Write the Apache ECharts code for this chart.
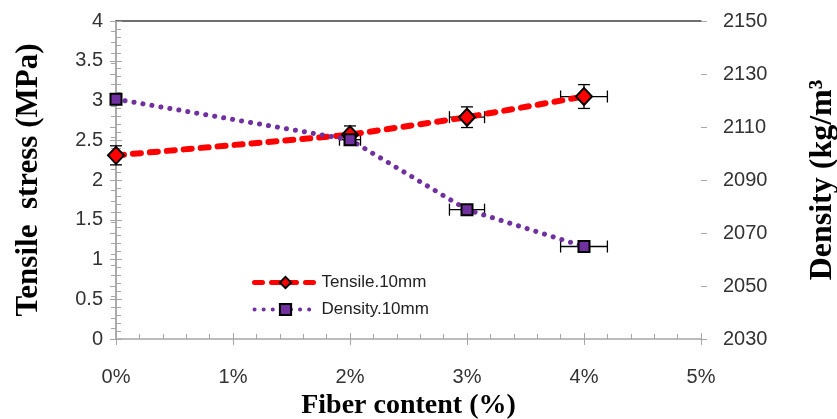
<!DOCTYPE html>
<html>
<head>
<meta charset="utf-8">
<script src="https://cdn.jsdelivr.net/npm/echarts@6/dist/echarts.min.js"></script>
<style>
  html, body { margin: 0; padding: 0; background: #fff; }
  #chart { width: 837px; height: 419px; }
</style>
</head>
<body>
<div id="chart"></div>
<script>
// Fiber content (%) on x
const fiber = [0, 2, 3, 4];
// Tensile stress (MPa), left axis
const tensile = [2.31, 2.57, 2.79, 3.05];
const tensileErrY = [0.12, 0.11, 0.13, 0.15];
const tensileErrX = [0, 0, 0.15, 0.2];
// Density (kg/m3), right axis
const density = [2120.5, 2105.2, 2078.8, 2064.9];
const densityErrY = [0, 0, 0, 0];
const densityErrX = [0, 0.09, 0.15, 0.2];

const labelFont = 'Liberation Sans';
const titleFont = 'Liberation Serif';
const gray = '#a6a6a6';

// error bars drawn with a custom series
function errorBars(xs, ys, ex, ey) {
    return xs.map((x, i) => [x, ys[i], ex[i], ey[i]]);
}

function renderErr(params, api) {
    const x = api.value(0), y = api.value(1);
    const ex = api.value(2), ey = api.value(3);
    const cap = 6;
    const children = [];
    const style = { stroke: '#000', lineWidth: 1.3 };
    if (ey > 0) {
        const top = api.coord([x, y + ey]);
        const bot = api.coord([x, y - ey]);
        children.push({ type: 'line', shape: { x1: top[0], y1: top[1], x2: bot[0], y2: bot[1] }, style: style });
        children.push({ type: 'line', shape: { x1: top[0] - cap, y1: top[1], x2: top[0] + cap, y2: top[1] }, style: style });
        children.push({ type: 'line', shape: { x1: bot[0] - cap, y1: bot[1], x2: bot[0] + cap, y2: bot[1] }, style: style });
    }
    if (ex > 0) {
        const l = api.coord([x - ex, y]);
        const r = api.coord([x + ex, y]);
        children.push({ type: 'line', shape: { x1: l[0], y1: l[1], x2: r[0], y2: r[1] }, style: style });
        children.push({ type: 'line', shape: { x1: l[0], y1: l[1] - cap, x2: l[0], y2: l[1] + cap }, style: style });
        children.push({ type: 'line', shape: { x1: r[0], y1: r[1] - cap, x2: r[0], y2: r[1] + cap }, style: style });
    }
    return { type: 'group', children: children };
}

const chart = echarts.init(document.getElementById('chart'));

const option = {
    animation: false,
    grid: { left: 116, right: 136, top: 21, bottom: 80, outerBoundsMode: 'none' },
    legend: {
        left: 247,
        top: 269,
        orient: 'vertical',
        itemWidth: 62,
        itemHeight: 14,
        itemGap: 10,
        textStyle: { fontFamily: labelFont, fontSize: 17, color: '#222' },
        data: [
            { name: 'Tensile.10mm', lineStyle: { width: 5 } },
            { name: 'Density.10mm', lineStyle: { width: 4 } }
        ]
    },
    xAxis: [
        {
            type: 'value', min: 0, max: 5, interval: 1,
            name: 'Fiber content (%)', nameLocation: 'middle', nameGap: 47,
            nameTextStyle: { fontFamily: titleFont, fontWeight: 'bold', fontSize: 28, color: '#000' },
            axisLine: { lineStyle: { color: gray, width: 1.5 } },
            axisTick: { inside: true, length: 6, lineStyle: { color: gray } },
            minorTick: { show: true, splitNumber: 5, length: 5, lineStyle: { color: gray } },
            axisLabel: { margin: 28, fontFamily: labelFont, fontSize: 20, color: '#333', formatter: v => v + '%' },
            splitLine: { show: false }
        },
        {
            // outside half of the crossing major ticks
            type: 'value', min: 0, max: 5, interval: 1, position: 'bottom',
            axisLine: { show: false },
            axisTick: { length: 6, lineStyle: { color: gray } },
            axisLabel: { show: false },
            splitLine: { show: false }
        },
        {
            // top frame line
            type: 'value', min: 0, max: 5, position: 'top',
            axisLine: { lineStyle: { color: '#404040', width: 1.5 } },
            axisTick: { show: false }, axisLabel: { show: false }, splitLine: { show: false }
        }
    ],
    yAxis: [
        {
            type: 'value', min: 0, max: 4, interval: 0.5, position: 'left',
            name: 'Tensile  stress (MPa)', nameLocation: 'middle', nameGap: 72,
            nameTextStyle: { fontFamily: titleFont, fontWeight: 'bold', fontSize: 31, color: '#000' },
            axisLine: { show: true, lineStyle: { color: gray, width: 1.5 } },
            axisTick: { inside: true, length: 6, lineStyle: { color: gray } },
            minorTick: { show: true, splitNumber: 5, length: 5, lineStyle: { color: gray } },
            axisLabel: { margin: 13, fontFamily: labelFont, fontSize: 20, color: '#333' },
            splitLine: { show: false }
        },
        {
            type: 'value', min: 2030, max: 2150, interval: 20, position: 'right',
            name: 'Density (kg/m³', nameLocation: 'middle', nameGap: 106, nameRotate: 90,
            nameTextStyle: { fontFamily: titleFont, fontWeight: 'bold', fontSize: 32, color: '#000' },
            axisLine: { show: true, lineStyle: { color: gray, width: 1.5 } },
            axisTick: { inside: true, length: 6, lineStyle: { color: gray } },
            minorTick: { show: true, splitNumber: 5, length: 5, lineStyle: { color: gray } },
            axisLabel: { margin: 22, fontFamily: labelFont, fontSize: 20, color: '#333', formatter: v => String(v) },
            splitLine: { show: false }
        },
        {
            type: 'value', min: 0, max: 4, interval: 0.5, position: 'left',
            axisLine: { show: false },
            axisTick: { length: 6, lineStyle: { color: gray } },
            axisLabel: { show: false }, splitLine: { show: false }
        },
        {
            type: 'value', min: 2030, max: 2150, interval: 20, position: 'right',
            axisLine: { show: false },
            axisTick: { length: 6, lineStyle: { color: gray } },
            axisLabel: { show: false }, splitLine: { show: false }
        }
    ],
    series: [
        {
            name: 'tensile-err', type: 'custom', xAxisIndex: 0, yAxisIndex: 0, z: 1,
            renderItem: renderErr, data: errorBars(fiber, tensile, tensileErrX, tensileErrY)
        },
        {
            name: 'density-err', type: 'custom', xAxisIndex: 0, yAxisIndex: 1, z: 1,
            renderItem: renderErr, data: errorBars(fiber, density, densityErrX, densityErrY)
        },
        {
            name: 'Tensile.10mm', type: 'line', xAxisIndex: 0, yAxisIndex: 0, z: 3,
            data: fiber.map((x, i) => [x, tensile[i]]),
            symbol: 'diamond', symbolSize: [16, 17],
            itemStyle: { color: '#ff0000', borderColor: '#000', borderWidth: 2 },
            lineStyle: { color: '#ff0000', width: 6, type: [8, 9], cap: 'round' }
        },
        {
            name: 'Density.10mm', type: 'line', xAxisIndex: 0, yAxisIndex: 1, z: 4,
            data: fiber.map((x, i) => [x, density[i]]),
            symbol: 'rect', symbolSize: 11,
            itemStyle: { color: '#7030a0', borderColor: '#000', borderWidth: 2 },
            lineStyle: { color: '#7030a0', width: 5, type: [0.1, 9], cap: 'round' }
        }
    ]
};

option && chart.setOption(option);
</script>
</body>
</html>
